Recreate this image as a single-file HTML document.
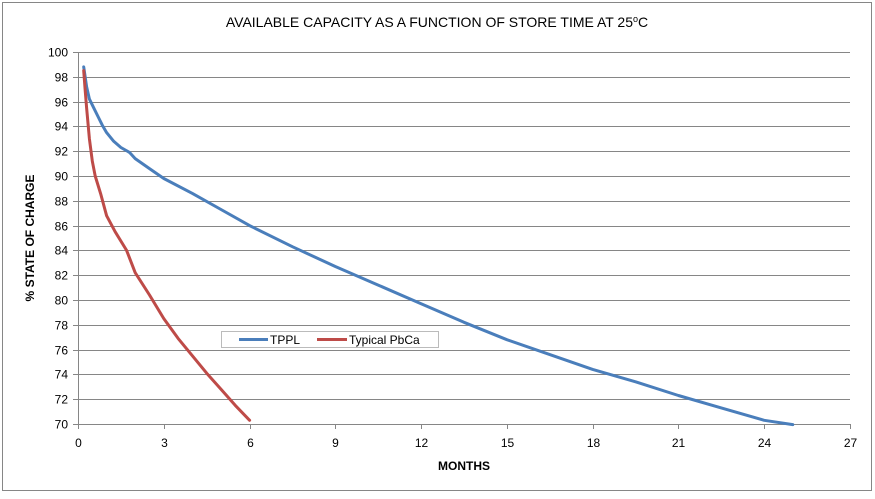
<!DOCTYPE html>
<html><head><meta charset="utf-8"><style>
body{margin:0;background:#fff;font-family:"Liberation Sans",sans-serif}
</style></head><body>
<svg width="875" height="494" font-family="Liberation Sans, sans-serif">
<rect x="2.5" y="2.5" width="869" height="488" fill="#fff" stroke="#868686"/>
<text x="437" y="27" text-anchor="middle" font-size="14" fill="#000">AVAILABLE CAPACITY AS A FUNCTION OF STORE TIME AT 25<tspan font-size="9" dy="-5">o</tspan><tspan dy="5">C</tspan></text>
<g id="grid"></g>
<g id="axes"></g>
<g id="series"></g>
<text transform="translate(34,238) rotate(-90)" text-anchor="middle" font-size="12" font-weight="bold">% STATE OF CHARGE</text>
<text x="464" y="470" text-anchor="middle" font-size="12" font-weight="bold">MONTHS</text>
<g>
<rect x="221.5" y="331.5" width="217" height="16" fill="#fff" stroke="#bbb"/>
<line x1="239" y1="339.5" x2="268" y2="339.5" stroke="#4a7ebb" stroke-width="3"/>
<text x="270" y="344" font-size="12">TPPL</text>
<line x1="317" y1="339.5" x2="347" y2="339.5" stroke="#be4b48" stroke-width="3"/>
<text x="349" y="344" font-size="12">Typical PbCa</text>
</g>
</svg>
<script>
const xTicks=[0,3,6,9,12,15,18,21,24,27];
const yTicks=[70,72,74,76,78,80,82,84,86,88,90,92,94,96,98,100];
const tpplX=[0.2,0.3,0.4,0.55,0.7,0.85,1,1.25,1.5,1.8,2,2.5,3,4,5,6,7.5,9,10.5,12,13.5,15,16.5,18,19.5,21,22.5,24,25];
const tpplY=[98.8,97.2,96.2,95.5,94.8,94.1,93.5,92.8,92.3,91.9,91.4,90.6,89.8,88.6,87.3,86,84.3,82.7,81.2,79.7,78.2,76.8,75.6,74.4,73.4,72.3,71.3,70.3,69.95];
const pbcaX=[0.2,0.25,0.3,0.4,0.5,0.6,0.8,1,1.3,1.7,2,2.5,3,3.5,4,4.5,5,5.5,6];
const pbcaY=[98.5,97,95.5,93,91.2,90,88.5,86.8,85.5,84,82.2,80.4,78.5,76.9,75.5,74.1,72.8,71.5,70.3];
const L=78,R=850,T=52,B=424;
const sx=v=>L+(v-0)/(27-0)*(R-L);
const sy=v=>B-(v-70)/(100-70)*(B-T);
const NS='http://www.w3.org/2000/svg';
const grid=document.getElementById('grid'),axes=document.getElementById('axes'),series=document.getElementById('series');
function mk(tag,attrs,parent){const e=document.createElementNS(NS,tag);for(const k in attrs)e.setAttribute(k,attrs[k]);parent.appendChild(e);return e;}
yTicks.forEach(v=>{
  const y=Math.round(sy(v))+0.5;
  const g=mk('line',{x1:L,x2:R,y1:y,y2:y,stroke:'#868686','stroke-width':1},grid);
  
  
  const tk=mk('line',{x1:L-5,x2:L,y1:y,y2:y,stroke:'#868686'},axes);
  
  
  const t=mk('text',{x:L-10,y:y+4,'text-anchor':'end','font-size':12,fill:'#000'},axes);
  t.textContent=v;
  
  
});
xTicks.forEach(v=>{
  const x=Math.round(sx(v))+0.5;
  const tk=mk('line',{x1:x,x2:x,y1:B,y2:B+5,stroke:'#868686'},axes);
  
  
  const t=mk('text',{x:x,y:B+23,'text-anchor':'middle','font-size':12,fill:'#000'},axes);
  t.textContent=v;
  
  
});
const ya=mk('line',{x1:L+0.5,x2:L+0.5,y1:T,y2:B+0.5,stroke:'#868686'},axes);


const xa=mk('line',{x1:L,x2:R,y1:B+0.5,y2:B+0.5,stroke:'#868686'},axes);


function line(xs,ys,color,name){
  const d=xs.map((x,i)=>(i?'L':'M')+sx(x).toFixed(1)+','+sy(ys[i]).toFixed(1)).join(' ');
  const p=mk('path',{d:d,fill:'none',stroke:color,'stroke-width':3,'stroke-linejoin':'round','stroke-linecap':'round'},series);
  
  
}
line(tpplX,tpplY,'#4a7ebb','series-tppl');
line(pbcaX,pbcaY,'#be4b48','series-typical-pbca');
</script>
</body></html>
